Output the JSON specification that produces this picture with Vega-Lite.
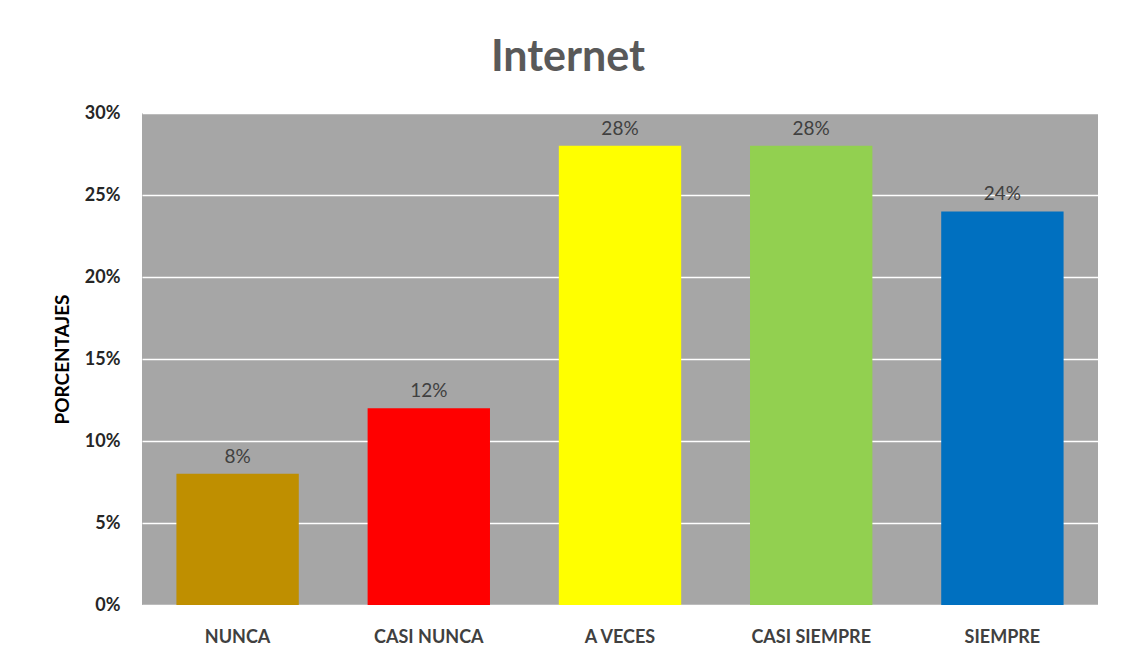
{
  "$schema": "https://vega.github.io/schema/vega-lite/v6.json",
  "autosize": "none",
  "width": 956,
  "height": 492,
  "padding": {"left": 142, "top": 113, "right": 25, "bottom": 57},
  "background": "white",
  "title": {
    "text": "Internet",
    "anchor": "middle",
    "dx": -52,
    "dy": 50,
    "offset": 40,
    "baseline": "alphabetic",
    "font": "Lato",
    "fontSize": 43,
    "fontWeight": "bold",
    "color": "#595959"
  },
  "data": {
    "values": [
      {"categoria": "NUNCA", "valor": 0.08},
      {"categoria": "CASI NUNCA", "valor": 0.12},
      {"categoria": "A VECES", "valor": 0.28},
      {"categoria": "CASI SIEMPRE", "valor": 0.28},
      {"categoria": "SIEMPRE", "valor": 0.24}
    ]
  },
  "encoding": {
    "x": {
      "field": "categoria",
      "type": "nominal",
      "sort": null,
      "scale": {"paddingInner": 0.36, "paddingOuter": 0.18},
      "axis": {
        "title": null,
        "labelAngle": 0,
        "labelFont": "Lato",
        "labelFontSize": 18,
        "labelFontWeight": "bold",
        "labelColor": "#404040",
        "labelPadding": 23,
        "domain": false,
        "ticks": false
      }
    },
    "y": {
      "field": "valor",
      "type": "quantitative",
      "scale": {"domain": [0, 0.3]},
      "axis": {
        "title": "PORCENTAJES",
        "titleFont": "Lato",
        "titleFontSize": 19,
        "titleFontWeight": "bold",
        "titleColor": "#000000",
        "titlePadding": 12,
        "values": [0, 0.05, 0.1, 0.15, 0.2, 0.25, 0.3],
        "format": ".0%",
        "labelFont": "Lato",
        "labelFontSize": 18,
        "labelFontWeight": "bold",
        "labelColor": "#262626",
        "labelPadding": 22,
        "domain": false,
        "ticks": false,
        "grid": true,
        "gridColor": "#ffffff",
        "gridWidth": 1.5
      }
    }
  },
  "layer": [
    {
      "mark": {"type": "bar"},
      "encoding": {
        "color": {
          "field": "categoria",
          "type": "nominal",
          "legend": null,
          "scale": {
            "domain": ["NUNCA", "CASI NUNCA", "A VECES", "CASI SIEMPRE", "SIEMPRE"],
            "range": ["#bf8f00", "#ff0000", "#ffff00", "#92d050", "#0070c0"]
          }
        }
      }
    },
    {
      "mark": {
        "type": "text",
        "dy": -17,
        "font": "Lato",
        "fontSize": 19,
        "color": "#404040"
      },
      "encoding": {
        "text": {"field": "valor", "type": "quantitative", "format": ".0%"}
      }
    }
  ],
  "config": {
    "view": {"fill": "#a6a6a6", "stroke": null}
  }
}
